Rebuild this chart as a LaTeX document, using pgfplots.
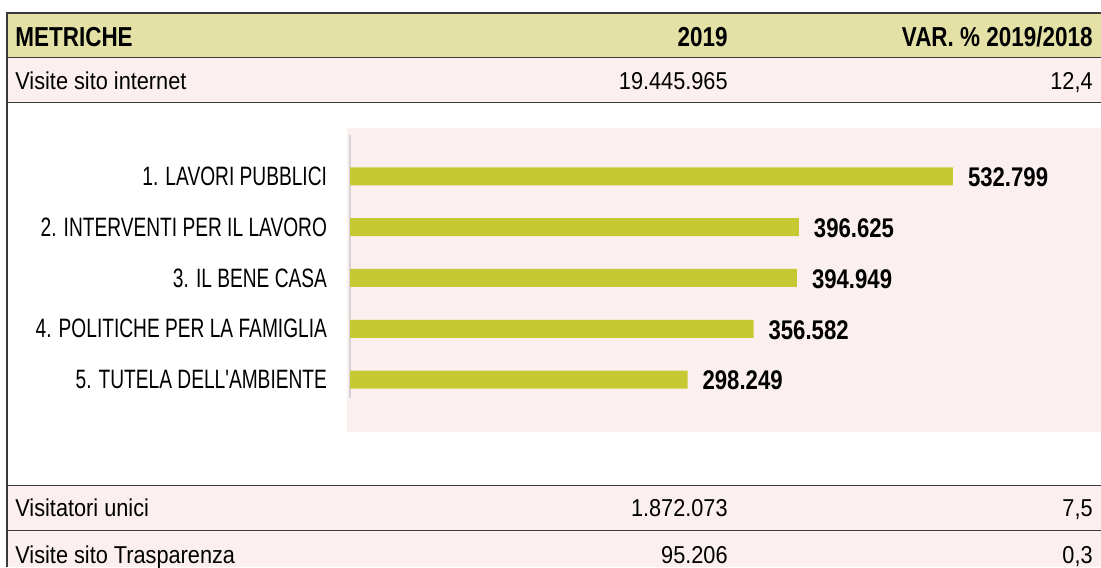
\documentclass[border=0pt]{standalone}
\usepackage{fontspec}
\setmainfont{Liberation Sans}
\newfontfamily\rowfont{Liberation Sans}[FakeStretch=0.89]
\newfontfamily\capfont{Liberation Sans}[FakeStretch=0.72]
\newfontfamily\hdfont{Liberation Sans}[FakeStretch=0.82]
\usepackage{pgfplots}
\pgfplotsset{compat=1.18}
\definecolor{hdr}{HTML}{E3E1A6}
\definecolor{rowpink}{HTML}{FCEFEF}
\definecolor{barcol}{HTML}{C7C933}
\definecolor{rulecol}{HTML}{3A3A3A}
\definecolor{axgray}{HTML}{D4D4D4}

% visite per tema (2019)
\pgfplotstableread{
idx value
1 532799
2 396625
3 394949
4 356582
5 298249
}\temi

\newcommand{\rowtxt}{\rowfont\fontsize{12.2}{14}\selectfont}
\newcommand{\hdtxt}{\hdfont\bfseries\fontsize{13.7}{15}\selectfont}

\begin{document}
\begin{tikzpicture}
\begin{scope}[x=0.5pt,y=0.5pt]
  \useasboundingbox (0,0) rectangle (1101,567);
  % fills
  \fill[hdr] (7,509) rectangle (1101,554);
  \fill[rowpink] (7,464) rectangle (1101,509);
  \fill[rowpink] (7,37) rectangle (1101,82);
  \fill[rowpink] (7,0) rectangle (1101,37);
  \fill[rowpink] (347,135) rectangle (1101,439);
  % rules
  \draw[rulecol, line width=0.7pt] (7,0) -- (7,554) -- (1101,554);
  \draw[rulecol, line width=0.5pt] (7,509) -- (1101,509);
  \draw[rulecol, line width=0.5pt] (7,464) -- (1101,464);
  \draw[rulecol, line width=0.5pt] (7,82) -- (1101,82);
  \draw[rulecol, line width=0.5pt] (7,37) -- (1101,37);
  % header
  \node[anchor=base west, inner sep=0] at (15,520) {\hdtxt METRICHE};
  \node[anchor=base east, inner sep=0] at (728,520) {\hdtxt 2019};
  \node[anchor=base east, inner sep=0] at (1093,520) {\hdtxt VAR. \% 2019/2018};
  % rows
  \node[anchor=base west, inner sep=0] at (15,477) {\rowtxt Visite sito internet};
  \node[anchor=base east, inner sep=0] at (728,477) {\rowtxt 19.445.965};
  \node[anchor=base east, inner sep=0] at (1093,477) {\rowtxt 12,4};
  \node[anchor=base west, inner sep=0] at (15,51) {\rowtxt Visitatori unici};
  \node[anchor=base east, inner sep=0] at (728,51) {\rowtxt 1.872.073};
  \node[anchor=base east, inner sep=0] at (1093,51) {\rowtxt 7,5};
  \node[anchor=base west, inner sep=0] at (15,4) {\rowtxt Visite sito Trasparenza};
  \node[anchor=base east, inner sep=0] at (728,4) {\rowtxt 95.206};
  \node[anchor=base east, inner sep=0] at (1093,4) {\rowtxt 0,3};
\end{scope}
\begin{axis}[
  at={(175pt,84.5pt)}, anchor=south west,
  scale only axis,
  width=375.5pt, height=131.5pt,
  xbar, bar width=9pt,
  xmin=0, xmax=663600,
  ymin=0.183, ymax=5.364,
  y dir=reverse,
  hide x axis,
  axis y line*=left,
  y axis line style={-, draw=axgray, line width=1.3pt},
  major tick length=0,
  ytick={1,2,3,4,5},
  yticklabels={1. LAVORI PUBBLICI, 2. INTERVENTI PER IL LAVORO, 3. IL BENE CASA, 4. POLITICHE PER LA FAMIGLIA, 5. TUTELA DELL'AMBIENTE},
  yticklabel style={font=\capfont\fontsize{13.3}{15}\selectfont, xshift=-8pt},
  point meta=x,
  nodes near coords={\pgfmathprintnumber[fixed, precision=0, 1000 sep={.}, assume math mode=true]{\pgfplotspointmeta}},
  nodes near coords style={font=\hdfont\bfseries\fontsize{13.5}{15}\selectfont, anchor=west, xshift=4pt, yshift=-0.5pt},
  clip=false,
]
\addplot[fill=barcol, draw=none] table[x=value, y=idx] {\temi};
\end{axis}
\end{tikzpicture}
\end{document}
